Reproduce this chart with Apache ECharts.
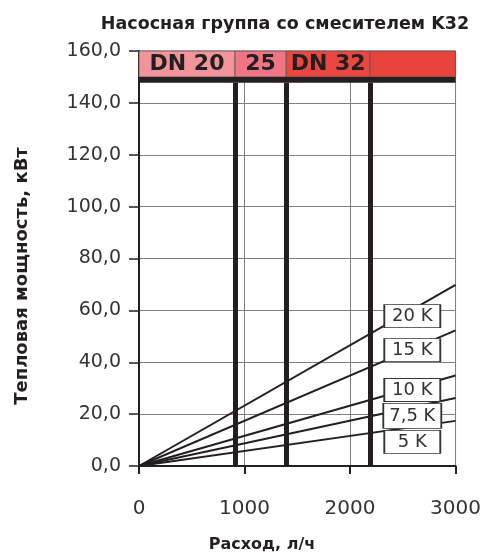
<!DOCTYPE html>
<html>
<head>
<meta charset="utf-8">
<script src="https://cdn.jsdelivr.net/npm/echarts@6/dist/echarts.min.js"></script>
<style>html,body{margin:0;padding:0;background:#fff}#c{width:484px;height:555px}</style>
</head>
<body>
<div id="c"></div>
<script>
// ---- data ----
var flowRange = [0, 3000];                       // l/h
var deltaT = ['20 K', '15 K', '10 K', '7,5 K', '5 K'];
var powerAtMax = [69.8, 52.3, 34.9, 26.2, 17.4];   // kW at 3000 l/h
var labelFlow = [2590, 2590, 2590, 2590, 2590];
var labelPower = [57.8, 44.7, 29.3, 19.3, 9.3];
var pipeBounds = [910, 1395, 2190];               // l/h, thick separators
var pipeNames = ['DN 20', '25', 'DN 32', ''];
var pipeColors = ['#f2959a', '#ef7484', '#e9473f', '#e8433a'];
var bandRange = [150, 160];
var barRange = [147.8, 150];
var yTicks = [0, 20, 40, 60, 80, 100, 120, 140, 160];
var xTicks = [0, 1000, 2000, 3000];
var titleText = 'Насосная группа со смесителем K32';
var xName = 'Расход, л/ч';
var yName = 'Тепловая мощность, кВт';

var chart = echarts.init(document.getElementById('c'));
var FONT = 'DejaVu Sans, sans-serif';

var edges = [flowRange[0]].concat(pipeBounds).concat([flowRange[1]]);
var bandAreas = [];
for (var i = 0; i < pipeNames.length; i++) {
  bandAreas.push([
    { xAxis: edges[i], yAxis: bandRange[0], itemStyle: { color: pipeColors[i], borderColor: '#555', borderWidth: 0.8 },
      label: { show: true, formatter: pipeNames[i], position: 'inside', color: '#231f20', fontSize: 22, fontWeight: 'bold', fontFamily: FONT } },
    { xAxis: edges[i + 1], yAxis: bandRange[1] }
  ]);
}
bandAreas.push([
  { xAxis: flowRange[0], yAxis: barRange[0], itemStyle: { color: '#231f20', borderWidth: 0 }, label: { show: false } },
  { xAxis: flowRange[1], yAxis: barRange[1] }
]);

var sepLines = pipeBounds.map(function (b) {
  return [{ coord: [b, 0] }, { coord: [b, barRange[0]] }];
});

var series = [];
series.push({
  type: 'line', data: [], silent: true,
  markArea: { silent: true, data: bandAreas },
  markLine: { silent: true, symbol: 'none', label: { show: false },
    lineStyle: { color: '#231f20', width: 5, type: 'solid' }, data: sepLines }
});
for (var k = 0; k < deltaT.length; k++) {
  series.push({
    type: 'line', name: deltaT[k], symbol: 'none', silent: true, z: 3,
    lineStyle: { color: '#231f20', width: 2 },
    data: [[flowRange[0], 0], [flowRange[1], powerAtMax[k]]]
  });
}
series.push({
  type: 'scatter', z: 5, silent: true, symbol: 'rect',
  symbolSize: function (v, p) { return p.dataIndex === 3 ? [58, 25] : [56, 23]; },
  itemStyle: { color: '#fff', borderColor: '#333', borderWidth: 1.2, opacity: 1 },
  label: { show: true, position: 'inside', color: '#333', fontSize: 18, fontFamily: FONT,
    formatter: function (p) { return deltaT[p.dataIndex]; } },
  data: labelFlow.map(function (x, i) { return [x, labelPower[i]]; })
});

chart.setOption({
  animation: false,
  title: { text: titleText, left: 280, textAlign: 'center', top: 10,
    textStyle: { fontSize: 17.5, fontWeight: 'bold', color: '#231f20', fontFamily: FONT } },
  graphic: [
    { type: 'text', x: 22, y: 276, rotation: Math.PI / 2,
      style: { text: yName, fill: '#231f20', font: 'bold 18px DejaVu Sans, sans-serif', align: 'center', verticalAlign: 'middle' } },
    { type: 'text', x: 262, y: 545,
      style: { text: xName, fill: '#231f20', font: 'bold 16px DejaVu Sans, sans-serif', align: 'center', verticalAlign: 'middle' } }
  ],
  grid: { left: 139, right: 28, top: 51, bottom: 89, show: true, borderColor: '#777', borderWidth: 1 },
  xAxis: {
    type: 'value', min: xTicks[0], max: xTicks[xTicks.length - 1], interval: 1000,
    axisLine: { show: true, onZero: false, lineStyle: { color: '#231f20', width: 2 } },
    axisTick: { show: true, length: 8, lineStyle: { color: '#231f20', width: 2 } },
    axisLabel: { margin: 33, fontSize: 20, color: '#333', fontFamily: FONT,
      formatter: function (v) { return String(v); } },
    splitLine: { show: true, lineStyle: { color: '#808080', width: 1 } }
  },
  yAxis: {
    type: 'value', min: yTicks[0], max: yTicks[yTicks.length - 1], interval: 20,
    axisLine: { show: true, lineStyle: { color: '#231f20', width: 2 } },
    axisTick: { show: true, length: 10, lineStyle: { color: '#231f20', width: 1.5 } },
    axisLabel: { margin: 18, fontSize: 19, color: '#333', fontFamily: FONT,
      formatter: function (v) { return v.toFixed(1).replace('.', ','); } },
    splitLine: { show: true, lineStyle: { color: '#808080', width: 1 } }
  },
  series: series
});
</script>
</body>
</html>
